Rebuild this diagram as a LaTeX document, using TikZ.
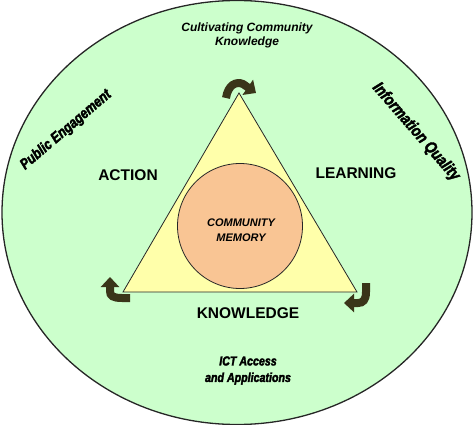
\documentclass[tikz,border=0pt]{standalone}
\usepackage{fontspec}
\setmainfont{Liberation Sans}
\newfontfamily\heavyfont[FakeBold=2.5, FakeStretch=0.82]{Liberation Sans}
\usetikzlibrary{arrows.meta}
\definecolor{bggreen}{HTML}{CCFFCC}
\definecolor{triyellow}{HTML}{FFFFAA}
\definecolor{memorypeach}{HTML}{F9C594}
\definecolor{arrowbrown}{HTML}{3A3519}
\tikzset{
	cyclearrow/.style={line width=8pt, color=arrowbrown, -{Triangle[width=18pt,length=10pt]}},
	phase/.style={font=\fontsize{15.5}{18}\selectfont\bfseries},
	rim/.style={font=\heavyfont\fontsize{15}{15}\selectfont\bfseries\itshape, align=center}
}

\begin{document}
\begin{tikzpicture}[x=1pt, y=-1pt]
		%%%%% START %%%%%
		\useasboundingbox (0, 0) rectangle (474, 425);
		
		\draw[line width=1.3pt, color=black!85, fill=bggreen] (237, 212.5) ellipse [x radius=235, y radius=212];
		
		\draw[line width=0.8pt, color=black!85, fill=triyellow] (239, 93) -- (357, 292) -- (123, 292) -- cycle;
		\draw[line width=0.8pt, color=black!85, fill=memorypeach] (240, 226) circle (62.5);
		
		\node[font=\fontsize{11}{15}\selectfont\bfseries\itshape, align=center] (memory) at (241, 230.5) {COMMUNITY\\MEMORY};
		
		\node[phase] (action) at (128, 175) {ACTION};
		\node[phase] (learning) at (356, 173) {LEARNING};
		\node[phase] (knowledge) at (248, 313) {KNOWLEDGE};
		
		\node[font=\fontsize{12}{14}\selectfont\bfseries\itshape, align=center] (cultivating) at (247, 35) {Cultivating Community\\Knowledge};
		\node[rim, rotate=40.5] (public) at (66, 130) {Public Engagement};
		\node[rim, rotate=-49, font=\heavyfont\fontsize{16.5}{16.5}\selectfont\bfseries\itshape] (quality) at (416, 132) {Information Quality};
		\node[rim, font=\heavyfont\fontsize{13}{16.5}\selectfont\bfseries\itshape] (ict) at (248, 370.5) {ICT Access\\and Applications};
		
		% cycle arrows round the corners
		\draw[cyclearrow] (226, 98) .. controls (228, 85) and (236, 81) .. (243, 84) -- (256, 93);
		\draw[cyclearrow] (130, 298) -- (122, 298) .. controls (113, 298) and (110, 296) .. (110, 291) -- (110, 277);
		\draw[cyclearrow] (366, 283) -- (366, 292) .. controls (366, 300) and (363, 303) .. (358, 303) -- (344, 303);
		
		%%%%% END %%%%%
	\end{tikzpicture}
\end{document}
